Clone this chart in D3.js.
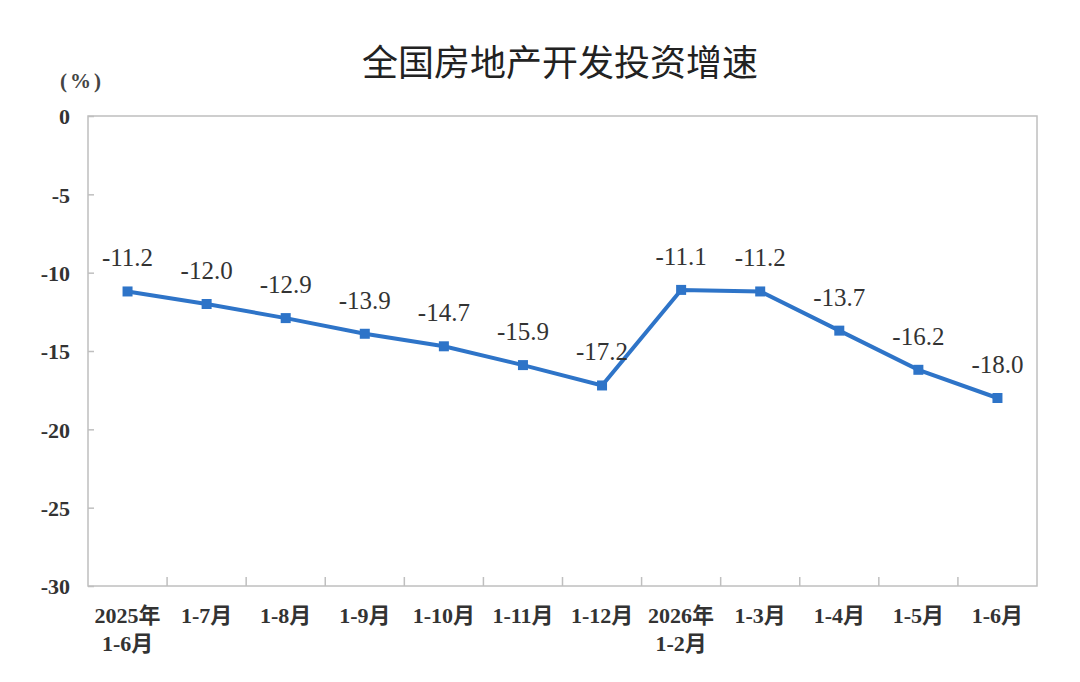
<!DOCTYPE html>
<html>
<head>
<meta charset="utf-8">
<script src="https://cdn.jsdelivr.net/npm/d3@7"></script>
<style>
  body{margin:0;background:#fff;}
  .tick-label{font-family:"Liberation Serif","Noto Sans CJK SC",serif;font-weight:bold;font-size:22px;fill:#333;}
</style>
</head>
<body>
<svg id="chart" width="1080" height="682"></svg>
<script>
// category labels (two lines where the year is shown)
var categories = ['2025年\n1-6月','1-7月','1-8月','1-9月','1-10月','1-11月','1-12月','2026年\n1-2月','1-3月','1-4月','1-5月','1-6月'];
var growth = [-11.2,-12.0,-12.9,-13.9,-14.7,-15.9,-17.2,-11.1,-11.2,-13.7,-16.2,-18.0];
var yTicks = [0,-5,-10,-15,-20,-25,-30];

var svg = d3.select('#chart');
var plotLeft = 88, plotRight = 1037, plotTop = 116, plotBottom = 586;
var lineColor = '#2e74c8';
var gridColor = '#bfbfbf';

var x = d3.scaleBand()
  .domain(categories)
  .range([plotLeft,plotRight]);

var y = d3.scaleLinear()
  .domain([-30,0])
  .range([plotBottom,plotTop]);

// title
svg.append('text')
  .attr('x',560)
  .attr('y',76)
  .attr('text-anchor','middle')
  .style('font-family','"Noto Sans CJK SC",sans-serif')
  .style('font-size','36px')
  .style('font-weight','400')
  .style('fill','#222')
  .text('全国房地产开发投资增速');

svg.append('text')
  .attr('x',82)
  .attr('y',88)
  .attr('text-anchor','middle')
  .style('font-family','"Liberation Serif","Noto Sans CJK SC",serif')
  .style('font-size','21px')
  .style('font-weight','bold')
  .style('letter-spacing','3px')
  .style('fill','#444')
  .text('(%)');

// plot frame
svg.append('rect')
  .attr('x',plotLeft)
  .attr('y',plotTop)
  .attr('width',plotRight-plotLeft)
  .attr('height',plotBottom-plotTop)
  .style('fill','none')
  .style('stroke',gridColor)
  .style('stroke-width',1.5);

// y axis
var yAxis = svg.append('g')
  .attr('transform','translate(' + plotLeft + ',0)')
  .call(d3.axisRight(y).tickValues(yTicks).tickSize(6).tickFormat(function(d){ return String(d); }));
yAxis.select('.domain').remove();
yAxis.selectAll('line').style('stroke',gridColor).style('stroke-width',1.5);
yAxis.selectAll('text')
  .attr('class','tick-label')
  .attr('x',-18)
  .attr('dy','0.35em')
  .style('text-anchor','end')
  .style('font-size','22px');

// x axis: ticks at band edges, pointing up
var xTicks = categories.slice(1).map(function(d){ return x(d); });
svg.append('g')
  .selectAll('line')
  .data(xTicks)
  .enter()
  .append('line')
  .attr('x1',function(d){ return d; })
  .attr('x2',function(d){ return d; })
  .attr('y1',plotBottom)
  .attr('y2',plotBottom-9)
  .style('stroke',gridColor)
  .style('stroke-width',1.5);

var xLabels = svg.append('g')
  .selectAll('text')
  .data(categories)
  .enter()
  .append('text')
  .attr('class','tick-label')
  .attr('text-anchor','middle')
  .attr('y',623);
xLabels.each(function(d){
  var t = d3.select(this);
  var cx = x(d) + x.bandwidth()/2;
  d.split('\n').forEach(function(part,i){
    t.append('tspan')
      .attr('x',cx)
      .attr('dy',i === 0 ? 0 : 28)
      .text(part);
  });
});

// line
var pts = categories.map(function(c,i){ return {cat:c, v:growth[i]}; });

svg.append('path')
  .datum(pts)
  .attr('d',d3.line()
    .x(function(d){ return x(d.cat) + x.bandwidth()/2; })
    .y(function(d){ return y(d.v); }))
  .style('fill','none')
  .style('stroke',lineColor)
  .style('stroke-width',4);

svg.append('g')
  .selectAll('rect')
  .data(pts)
  .enter()
  .append('rect')
  .attr('x',function(d){ return x(d.cat) + x.bandwidth()/2 - 5; })
  .attr('y',function(d){ return y(d.v) - 5; })
  .attr('width',10)
  .attr('height',10)
  .style('fill',lineColor);

// value labels
svg.append('g')
  .selectAll('text')
  .data(pts)
  .enter()
  .append('text')
  .attr('x',function(d){ return x(d.cat) + x.bandwidth()/2; })
  .attr('y',function(d){ return y(d.v) - 25; })
  .attr('text-anchor','middle')
  .style('font-family','"Liberation Serif",serif')
  .style('font-size','25px')
  .style('fill','#333')
  .text(function(d){ return d.v.toFixed(1); });
</script>
</body>
</html>
